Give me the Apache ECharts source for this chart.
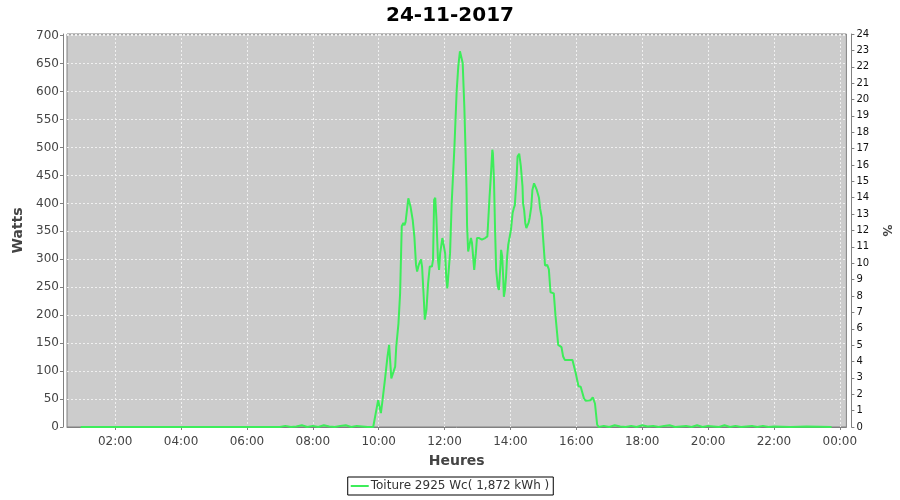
<!DOCTYPE html>
<html><head><meta charset="utf-8">
<script src="https://cdn.jsdelivr.net/npm/echarts@6/dist/echarts.min.js"></script>
<style>html,body{margin:0;padding:0;background:#fff}#c{width:900px;height:500px}</style>
</head><body><div id="c"></div>
<script>
const chartTitle = '24-11-2017';
const seriesName = 'Toiture 2925 Wc( 1,872 kWh )';
const xTickHours = [2, 4, 6, 8, 10, 12, 14, 16, 18, 20, 22, 24];

const times = [
"00:57","06:50",
"07:00","07:10","07:20","07:30","07:40","07:50","08:00","08:10","08:20","08:30","08:40","08:50","09:00","09:10","09:20","09:30","09:40",
"09:50","09:59","10:04","10:07","10:12","10:16","10:19","10:23","10:26","10:30","10:32","10:36","10:39","10:42","10:45","10:47","10:49","10:54","10:58",
"11:02","11:05","11:08","11:10","11:13","11:17","11:19","11:22","11:24","11:25","11:27","11:30","11:33","11:34","11:37","11:39","11:41","11:43","11:45","11:48","11:50","11:52","11:56","11:58",
"12:01","12:03","12:05","12:08","12:10","12:13","12:18","12:22","12:25","12:28","12:30","12:33","12:36","12:38","12:40","12:41","12:43","12:45","12:48","12:50","12:53","12:54","12:57","12:59",
"13:03","13:08","13:14","13:18","13:19","13:22","13:25","13:27","13:28","13:30","13:32","13:34","13:37","13:39","13:42","13:43","13:45","13:47","13:48","13:50","13:52","13:54","13:56","13:59",
"14:01","14:04","14:06","14:08","14:11","14:13","14:16","14:18","14:19","14:22","14:23","14:25","14:27","14:29","14:31","14:33","14:35","14:38","14:40","14:43","14:46","14:48","14:52","14:54","14:57","14:59",
"15:03","15:07","15:10","15:13","15:16","15:19","15:22","15:27","15:30","15:33","15:36","15:39","15:53","15:56","15:59",
"16:04","16:08","16:11","16:14","16:17","16:26","16:30","16:34","16:38","16:41",
"16:50","17:00","17:10","17:20","17:30","17:40","17:50","18:00","18:10","18:20","18:30","18:40","18:50","19:00","19:10","19:20","19:30","19:40","19:50","20:00","20:10","20:20","20:30","20:40","20:50","21:00","21:10","21:20","21:30","21:40","21:50","22:00",
"22:30","23:00","23:45"
];

const watts = [
0,0,
0,2,0,1,3,0,2,0,3,1,0,2,3,0,2,1,0,
0,48,25,48,90,126,147,87,88,108,144,185,239,359,365,361,367,409,394,
370,340,290,278,290,300,287,233,192,190,210,257,287,285,287,299,406,410,376,299,281,311,338,341,
311,269,248,251,311,401,502,600,645,672,672,651,573,502,424,360,314,317,338,329,293,281,311,338,
338,335,338,341,359,412,460,496,490,442,353,281,251,245,293,317,305,263,233,245,269,305,326,329,
353,383,391,397,442,484,489,487,466,430,400,388,365,356,353,365,374,394,424,436,436,424,410,391,375,345,
289,290,282,241,238,239,200,147,144,143,126,120,120,117,96,
73,72,73,51,47,48,53,42,4,0,
2,0,3,1,0,2,0,3,1,2,0,2,3,0,1,2,0,3,0,2,1,0,3,0,2,0,1,2,0,2,0,1,
0,1,0
];

function toHours(s) { const p = s.split(':'); return +p[0] + (+p[1]) / 60; }
const seriesData = times.map((t, i) => [toHours(t), watts[i]]);

const font = 'DejaVu Sans';
const chart = echarts.init(document.getElementById('c'));
chart.setOption({
  animation: false,
  backgroundColor: '#ffffff',
  title: {
    text: chartTitle, left: 'center', top: 1,
    textStyle: { fontFamily: font, fontSize: 20, fontWeight: 'bold', color: '#000' }
  },
  legend: {
    data: [seriesName], left: 'center', top: 477,
    borderColor: '#000', borderWidth: 1, borderRadius: 0,
    padding: [3, 4, 3, 3], itemWidth: 18, itemHeight: 2, itemGap: 2,
    icon: 'rect', backgroundColor: '#fff',
    textStyle: { fontFamily: font, fontSize: 12, color: '#333', padding: [0, 0, 0, -3] }
  },
  grid: {
    left: 67, right: 52, top: 34, bottom: 73,
    show: true, backgroundColor: '#cccccc', borderColor: '#808080', borderWidth: 1
  },
  xAxis: {
    type: 'value', min: 0.536, max: 24.2,
    offset: 4,
    name: 'Heures', nameLocation: 'middle', nameGap: 23,
    nameTextStyle: { fontFamily: font, fontSize: 14, fontWeight: 'bold', color: '#444' },
    axisLine: { show: true, lineStyle: { color: '#808080', width: 1 } },
    axisTick: { show: true, length: 3, customValues: xTickHours, lineStyle: { color: '#808080' } },
    axisLabel: {
      customValues: xTickHours, margin: 5,
      fontFamily: font, fontSize: 12, color: '#444',
      formatter: function (v) { const h = Math.round(v) % 24; return (h < 10 ? '0' : '') + h + ':00'; }
    },
    splitLine: { show: true, lineStyle: { color: '#f0f0f0', type: [2, 2], width: 1 } }
  },
  yAxis: [{
    type: 'value', min: 0, max: 703, interval: 50,
    position: 'left', offset: 4,
    name: 'Watts', nameLocation: 'middle', nameGap: 35, nameRotate: 90,
    nameTextStyle: { fontFamily: font, fontSize: 14, fontWeight: 'bold', color: '#444' },
    axisLine: { show: true, lineStyle: { color: '#808080', width: 1 } },
    axisTick: { show: true, length: 3, lineStyle: { color: '#808080' } },
    axisLabel: { showMaxLabel: false, margin: 4, fontFamily: font, fontSize: 12, color: '#444' },
    splitLine: { show: true, lineStyle: { color: '#f0f0f0', type: [2, 2], width: 1 } }
  }, {
    type: 'value', min: 0, max: 24, interval: 1,
    position: 'right', offset: 5,
    name: '%', nameLocation: 'middle', nameGap: 22, nameRotate: -90,
    nameTextStyle: { fontFamily: font, fontSize: 12, fontWeight: 'bold', color: '#444' },
    axisLine: { show: true, lineStyle: { color: '#808080', width: 1 } },
    axisTick: { show: true, length: 3, lineStyle: { color: '#808080' } },
    axisLabel: { margin: 5, fontFamily: font, fontSize: 10, color: '#111' },
    splitLine: { show: false }
  }],
  series: [{
    name: seriesName, type: 'line', yAxisIndex: 0,
    data: seriesData, showSymbol: false, symbol: 'none',
    itemStyle: { color: '#3ded5a' },
    lineStyle: { color: '#3ded5a', width: 2 }
  }]
});
</script>
</body></html>
